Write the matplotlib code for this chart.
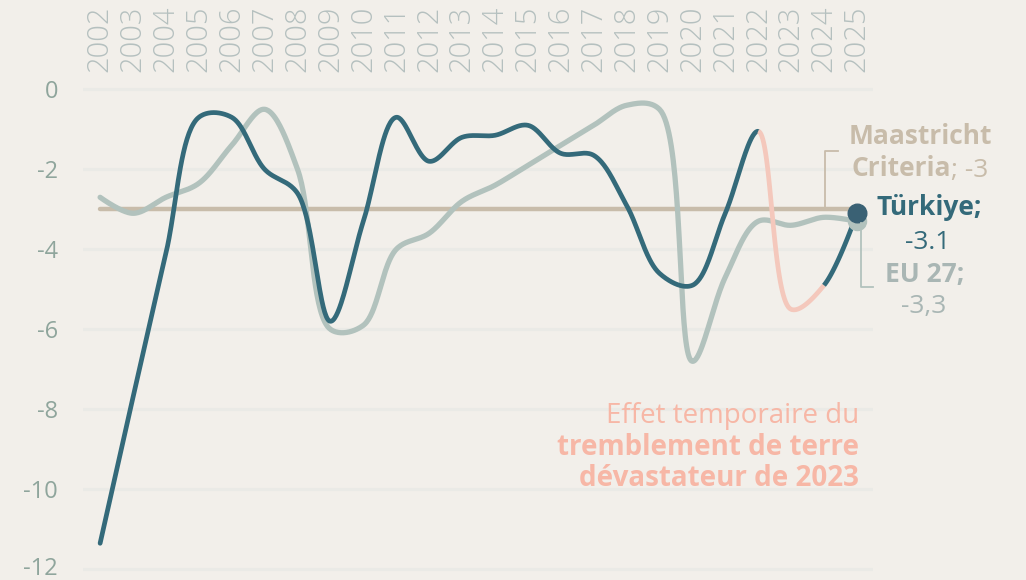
import numpy as np
import matplotlib
matplotlib.use("Agg")
import matplotlib.pyplot as plt
from matplotlib.lines import Line2D

# data (general government balance, % of GDP)
years = list(range(2002, 2026))
turkiye = [-11.35, -7.7, -4.1, -0.7, -0.7, -2.0, -2.6, -5.8, -3.3, -0.7, -1.8, -1.2,
           -1.15, -0.9, -1.6, -1.65, -2.9, -4.6, -4.9, -3.1, -1.05, -5.5, -4.9, -3.1]
eu27 = [-2.7, -3.1, -2.7, -2.35, -1.4, -0.5, -2.0, -6.0, -5.9, -4.0, -3.6, -2.8,
        -2.4, -1.9, -1.4, -0.9, -0.4, -0.5, -6.8, -4.7, -3.3, -3.4, -3.2, -3.3]
maastricht = -3
quake_years = (2022, 2024)
y_ticks = [0, -2, -4, -6, -8, -10, -12]

BG = "#f2efea"
TR_COL = "#346a7a"
EU_COL = "#b2c2bd"
MA_COL = "#c8bcaa"
PINK_LINE = "#f4c8bc"
PINK_TXT = "#f7b7a6"
FONT = "Open Sans"

W, H = 1026, 580
PX_X, PX_Y = 32.9, 40.0  # pixels per year / per unit, used for the curve shape


def catmull_rom(xs, ys, alpha=0.5, n=40):
    # centripetal catmull-rom (same construction as d3.curveCatmullRom)
    P = np.column_stack([np.asarray(xs, float) * PX_X, np.asarray(ys, float) * PX_Y])
    out = [P[0]]
    for i in range(len(P) - 1):
        p0 = P[i - 1] if i > 0 else P[i]
        p1, p2 = P[i], P[i + 1]
        p3 = P[i + 2] if i + 2 < len(P) else P[i + 1]
        l01_2a = np.hypot(*(p1 - p0)) ** (2 * alpha)
        l12_2a = np.hypot(*(p2 - p1)) ** (2 * alpha)
        l23_2a = np.hypot(*(p3 - p2)) ** (2 * alpha)
        l01_a, l12_a, l23_a = np.sqrt(l01_2a), np.sqrt(l12_2a), np.sqrt(l23_2a)
        c1 = p1.copy()
        if l01_a > 1e-9:
            a = 2 * l01_2a + 3 * l01_a * l12_a + l12_2a
            m = 3 * l01_a * (l01_a + l12_a)
            c1 = (p1 * a - p0 * l12_2a + p2 * l01_2a) / m
        c2 = p2.copy()
        if l23_a > 1e-9:
            b = 2 * l23_2a + 3 * l23_a * l12_a + l12_2a
            m = 3 * l23_a * (l23_a + l12_a)
            c2 = (p2 * b + p1 * l23_2a - p3 * l12_2a) / m
        t = np.linspace(0, 1, n)[1:, None]
        seg = (1 - t) ** 3 * p1 + 3 * (1 - t) ** 2 * t * c1 + 3 * (1 - t) * t ** 2 * c2 + t ** 3 * p2
        out.extend(seg)
    out = np.array(out)
    return out[:, 0] / PX_X, out[:, 1] / PX_Y


def fpos(x, y):
    return x / W, 1 - y / H


fig = plt.figure(figsize=(W / 100, H / 100), dpi=100, facecolor=BG)
# axes placed so that 0 sits at y=89px and 2002..2025 span x=100..857px
ax = fig.add_axes([83 / W, 1 - 579.3 / H, 790 / W, 500 / H], facecolor=BG)
ax.set_xlim(2001.48, 2025.49)
ax.set_ylim(-12.25, 0.25)

for s in ax.spines.values():
    s.set_visible(False)

ax.set_yticks(y_ticks)
ax.set_yticklabels([str(v) for v in y_ticks])
ax.tick_params(axis="y", length=0, pad=18, labelsize=17, labelcolor="#8fa59c")
for lab in ax.get_yticklabels():
    lab.set_fontfamily(FONT)
# keep the bottom label inside the canvas
ax.get_yticklabels()[-1].set_verticalalignment("center")

ax.xaxis.tick_top()
ax.set_xticks(years)
ax.set_xticklabels([str(y) for y in years], rotation=90)
ax.tick_params(axis="x", length=0, pad=5, labelsize=21, labelcolor="#b5c0bf")
for lab in ax.get_xticklabels():
    lab.set_fontfamily(FONT)
    lab.set_fontweight("light")

ax.grid(axis="y", color="#eaeae6", lw=2.2, zorder=0)
ax.grid(axis="x", visible=False)

# Maastricht criterion
ax.plot([years[0], years[-1]], [maastricht, maastricht], color=MA_COL, lw=3.2,
        solid_capstyle="round", zorder=2)

# EU 27
ex, ey = catmull_rom(years, eu27)
ax.plot(ex, ey, color=EU_COL, lw=3.8, solid_capstyle="round", zorder=3)

# Türkiye, with the earthquake stretch in pink
tx, ty = catmull_rom(years, turkiye)
eps = 1e-6
m1 = tx <= quake_years[0] + eps
m2 = (tx >= quake_years[0] - eps) & (tx <= quake_years[1] + eps)
m3 = tx >= quake_years[1] - eps
ax.plot(tx[m1], ty[m1], color=TR_COL, lw=3.4, solid_capstyle="round", zorder=4)
ax.plot(tx[m2], ty[m2], color=PINK_LINE, lw=3.4, solid_capstyle="butt", zorder=4)
ax.plot(tx[m3], ty[m3], color=TR_COL, lw=3.4, solid_capstyle="butt", zorder=4)

ax.plot(years[-1], eu27[-1], "o", ms=13, color=EU_COL, zorder=5, clip_on=False)
ax.plot(years[-1], turkiye[-1], "o", ms=13.4, color="#3a6174", zorder=6, clip_on=False)

# leader lines
fig.add_artist(Line2D([825 / W, 825 / W, 838 / W], [1 - 207 / H, 1 - 151 / H, 1 - 151 / H],
                      color=MA_COL, lw=1.3))
fig.add_artist(Line2D([861 / W, 861 / W, 873 / W], [1 - 223 / H, 1 - 287 / H, 1 - 287 / H],
                      color=EU_COL, lw=1.3))

# labels on the right
fig.text(*fpos(920, 144), "Maastricht", ha="center", va="baseline", fontsize=19,
         fontweight="bold", color=MA_COL, family=FONT)
fig.text(*fpos(951, 176.5), "Criteria", ha="right", va="baseline", fontsize=19,
         fontweight="bold", color=MA_COL, family=FONT)
fig.text(*fpos(951, 176.5), "; -3", ha="left", va="baseline", fontsize=19,
         color=MA_COL, family=FONT)
fig.text(*fpos(929, 215), "Türkiye;", ha="center", va="baseline", fontsize=19,
         fontweight="bold", color=TR_COL, family=FONT)
fig.text(*fpos(928, 249), "-3.1", ha="center", va="baseline", fontsize=19,
         color=TR_COL, family=FONT)
fig.text(*fpos(925, 282), "EU 27;", ha="center", va="baseline", fontsize=19,
         fontweight="bold", color="#a9b6b4", family=FONT)
fig.text(*fpos(923.5, 313), "-3,3", ha="center", va="baseline", fontsize=19,
         color="#a9b6b4", family=FONT)

# earthquake note
fig.text(*fpos(859, 423), "Effet temporaire du", ha="right", va="baseline", fontsize=20,
         color=PINK_TXT, family=FONT)
fig.text(*fpos(859, 455), "tremblement de terre", ha="right", va="baseline", fontsize=20,
         fontweight="bold", color=PINK_TXT, family=FONT)
fig.text(*fpos(859, 485.5), "dévastateur de 2023", ha="right", va="baseline", fontsize=20,
         fontweight="bold", color=PINK_TXT, family=FONT)

fig.savefig("out.png", dpi=100, facecolor=BG)
